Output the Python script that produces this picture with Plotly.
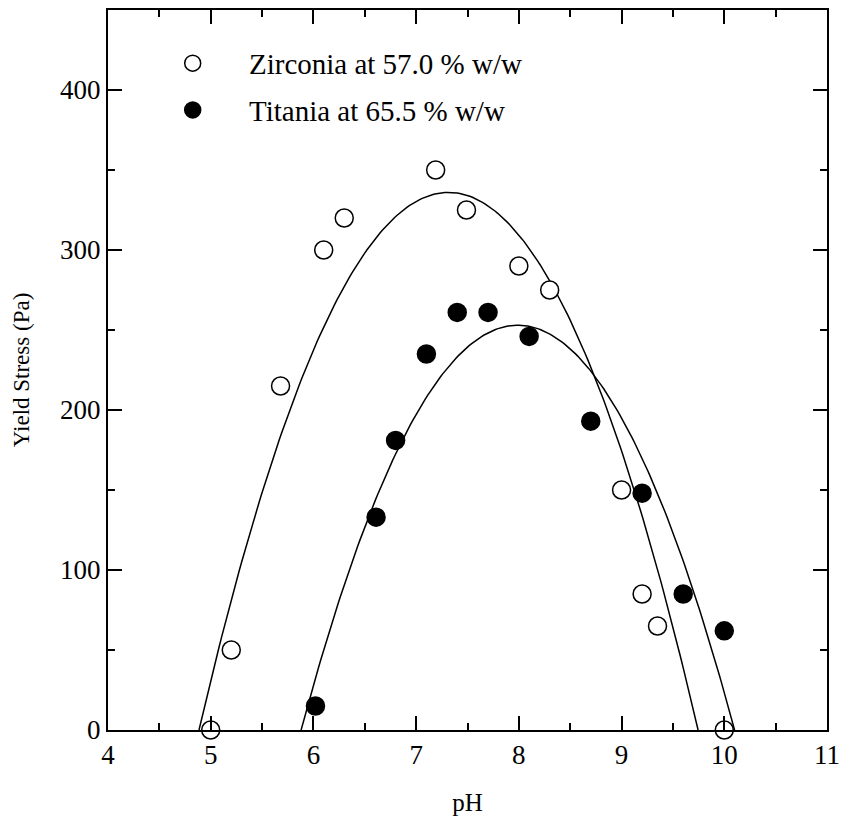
import numpy as np
import plotly.graph_objects as go

# Data
zr_ph = [5.0, 5.2, 5.68, 6.1, 6.3, 7.19, 7.49, 8.0, 8.3, 9.0, 9.2, 9.35, 10.0]
zr_ys = [0, 50, 215, 300, 320, 350, 325, 290, 275, 150, 85, 65, 0]
ti_ph = [6.02, 6.61, 6.8, 7.1, 7.4, 7.7, 8.1, 8.7, 9.2, 9.6, 10.0]
ti_ys = [15, 133, 181, 235, 261, 261, 246, 193, 148, 85, 62]

# Fitted curves (parabolas) described by their roots and peak height
zr_fit = dict(r1=4.886, r2=9.745, peak=336)
ti_fit = dict(r1=5.88, r2=10.10, peak=253)

zr_name = "Zirconia at 57.0 % w/w"
ti_name = "Titania at 65.5 % w/w"


def parab(fit, n=200):
    x = np.linspace(fit["r1"], fit["r2"], n)
    m = 0.5 * (fit["r1"] + fit["r2"])
    w = 0.5 * (fit["r2"] - fit["r1"])
    y = fit["peak"] * (1 - ((x - m) / w) ** 2)
    return x, np.clip(y, 0, None)


FONT = "Liberation Serif"
fig = go.Figure()
for fit in (zr_fit, ti_fit):
    fx, fy = parab(fit)
    fig.add_trace(go.Scatter(x=fx, y=fy, mode="lines", line=dict(color="black", width=1.5),
                             showlegend=False, hoverinfo="skip"))

nbsp = "\u00a0" * 5
fig.add_trace(go.Scatter(x=zr_ph, y=zr_ys, mode="markers", name=nbsp + zr_name,
                         marker=dict(symbol="circle", size=18, color="white",
                                     line=dict(color="black", width=1.5)),
                         cliponaxis=False, legend="legend"))
fig.add_trace(go.Scatter(x=ti_ph, y=ti_ys, mode="markers", name=nbsp + ti_name,
                         marker=dict(symbol="circle", size=18, color="black",
                                     line=dict(color="black", width=1.5)),
                         cliponaxis=False, legend="legend2"))

axis_common = dict(showgrid=False, zeroline=False, showline=True, linecolor="black", linewidth=2,
                   mirror="ticks", ticks="inside", tickcolor="black", tickwidth=2, ticklen=14,
                   automargin=False, ticklabeloverflow="allow",
                   tickfont=dict(family=FONT, size=27, color="black"))

fig.update_layout(
    width=843, height=825,
    margin=dict(l=108, r=16, t=10, b=95),
    plot_bgcolor="white", paper_bgcolor="white",
    xaxis=dict(range=[4, 11], dtick=1, tick0=4,
               minor=dict(dtick=0.5, ticks="inside", ticklen=7, tickcolor="black", tickwidth=2),
               title=dict(text="pH", font=dict(family=FONT, size=25, color="black"), standoff=24),
               **axis_common),
    yaxis=dict(range=[0, 450], dtick=100, tick0=0,
               minor=dict(dtick=50, ticks="inside", ticklen=7, tickcolor="black", tickwidth=2),
               title=dict(text="Yield Stress (Pa)", font=dict(family=FONT, size=23, color="black"), standoff=24),
               **axis_common),
    legend=dict(x=0.09, y=0.926, xanchor="left", yanchor="middle", bgcolor="rgba(0,0,0,0)",
                font=dict(family=FONT, size=29, color="black"), itemsizing="trace"),
    legend2=dict(x=0.09, y=0.861, xanchor="left", yanchor="middle", bgcolor="rgba(0,0,0,0)",
                 font=dict(family=FONT, size=29, color="black"), itemsizing="trace"),
)

fig.write_html("out.html")
